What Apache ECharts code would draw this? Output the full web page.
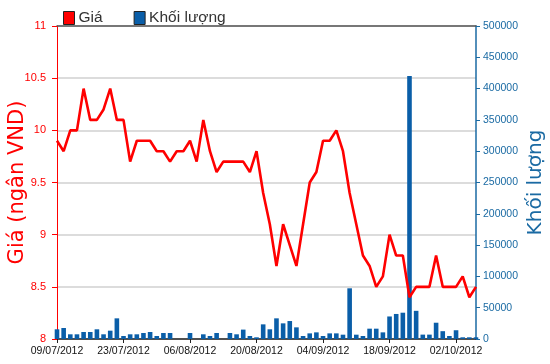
<!DOCTYPE html>
<html>
<head>
<meta charset="utf-8">
<script src="https://cdn.jsdelivr.net/npm/echarts@6/dist/echarts.min.js"></script>
<style>
html,body{margin:0;padding:0;background:#fff;}
#c{width:550px;height:364px;}
</style>
</head>
<body>
<div id="c"></div>
<script>
var dates = [
 '09/07/2012','10/07/2012','11/07/2012','12/07/2012','13/07/2012','16/07/2012','17/07/2012','18/07/2012','19/07/2012','20/07/2012',
 '23/07/2012','24/07/2012','25/07/2012','26/07/2012','27/07/2012','30/07/2012','31/07/2012','01/08/2012','02/08/2012','03/08/2012',
 '06/08/2012','07/08/2012','08/08/2012','09/08/2012','10/08/2012','13/08/2012','14/08/2012','15/08/2012','16/08/2012','17/08/2012',
 '20/08/2012','21/08/2012','22/08/2012','23/08/2012','24/08/2012','27/08/2012','28/08/2012','29/08/2012','30/08/2012','31/08/2012',
 '04/09/2012','05/09/2012','06/09/2012','07/09/2012','10/09/2012','11/09/2012','12/09/2012','13/09/2012','14/09/2012','17/09/2012',
 '18/09/2012','19/09/2012','20/09/2012','21/09/2012','24/09/2012','25/09/2012','26/09/2012','27/09/2012','28/09/2012','01/10/2012',
 '02/10/2012','03/10/2012','04/10/2012','05/10/2012'
];
var price = [
 9.9,9.8,10.0,10.0,10.4,10.1,10.1,10.2,10.4,10.1,
 10.1,9.7,9.9,9.9,9.9,9.8,9.8,9.7,9.8,9.8,
 9.9,9.7,10.1,9.8,9.6,9.7,9.7,9.7,9.7,9.6,
 9.8,9.4,9.1,8.7,9.1,8.9,8.7,9.1,9.5,9.6,
 9.9,9.9,10.0,9.8,9.4,9.1,8.8,8.7,8.5,8.6,
 9.0,8.8,8.8,8.4,8.5,8.5,8.5,8.8,8.5,8.5,
 8.5,8.6,8.4,8.5
];
var volume = [
 15500,17600,7500,7500,11200,11200,15500,7500,13300,33000,
 4800,7500,7500,9600,11200,4800,9600,9600,0,0,
 9600,0,7500,4800,9600,0,9600,7500,15000,4800,
 2700,23400,15500,33000,25000,28700,18600,4800,9000,10600,
 4800,9000,9000,6900,81000,6900,4800,16500,16500,10600,
 36000,40000,42000,420000,45000,7000,7000,26000,12500,4800,
 14000,2700,2700,2700
];
var priceName = 'Giá';
var volName = 'Khối lượng';
var leftTitle = 'Giá (ngân VND)';
var rightTitle = 'Khối lượng';

var chart = echarts.init(document.getElementById('c'));
var font = 'Liberation Sans, Arial, sans-serif';
var wide = 'DejaVu Sans, Verdana, sans-serif';
chart.setOption({
  animation: false,
  textStyle: {fontFamily: font},
  legend: {
    left: 58, top: 5,
    itemWidth: 11, itemHeight: 13, itemGap: 31,
    icon: 'rect',
    textStyle: {fontSize: 15.5, color: '#333', fontFamily: font, padding: [0,0,0,-1]},
    data: [
      {name: priceName, itemStyle: {color: '#ff0000', borderColor: '#222', borderWidth: 1}},
      {name: volName, itemStyle: {color: '#0a5ea8', borderColor: '#222', borderWidth: 1}}
    ]
  },
  grid: {left: 57, right: 74, top: 26, bottom: 25, containLabel: false, outerBoundsMode: 'none'},
  xAxis: [{
    type: 'category', data: dates, boundaryGap: false,
    axisLine: {lineStyle: {color: '#222', width: 1.5}},
    axisTick: {interval: 9, length: 4, lineStyle: {color: '#222'}},
    axisLabel: {interval: 9, fontSize: 10.5, color: '#111', margin: 7, fontFamily: font}
  }, {
    type: 'category', data: dates, position: 'top', boundaryGap: false,
    axisLine: {lineStyle: {color: '#555', width: 1.5}},
    axisTick: {show: false}, axisLabel: {show: false}
  }],
  yAxis: [{
    type: 'value', min: 8, max: 11, interval: 0.5, position: 'left',
    name: leftTitle, nameLocation: 'middle', nameRotate: 90, nameGap: 29, nameMoveOverlap: false,
    nameTextStyle: {color: '#ff0000', fontSize: 21, fontFamily: wide},
    axisLine: {show: true, lineStyle: {color: '#ff0000', width: 1}},
    axisTick: {show: true, length: 5, lineStyle: {color: '#ff0000'}},
    axisLabel: {color: '#ff0000', fontSize: 11, margin: 11, fontFamily: font},
    splitLine: {show: true, lineStyle: {color: '#d0d0d0', width: 1.5}}
  }, {
    type: 'value', min: 0, max: 500000, interval: 50000, position: 'right',
    name: rightTitle, nameLocation: 'middle', nameRotate: 90, nameGap: 50, nameMoveOverlap: false,
    nameTextStyle: {color: '#1a6aa3', fontSize: 20, fontFamily: wide},
    axisLine: {show: true, lineStyle: {color: '#1a6aa3', width: 1.5}},
    axisTick: {show: true, length: 4, lineStyle: {color: '#1a6aa3'}},
    axisLabel: {color: '#1a6aa3', fontSize: 10.5, margin: 7, fontFamily: font,
      formatter: function (v) { return String(v); }},
    splitLine: {show: false}
  }],
  series: [{
    name: volName, type: 'bar', yAxisIndex: 1, data: volume,
    barWidth: 4.6, itemStyle: {color: '#0a5ea8'}, z: 1
  }, {
    name: priceName, type: 'line', yAxisIndex: 0, data: price,
    symbol: 'none', lineStyle: {color: '#ff0000', width: 2.6}, itemStyle: {color: '#ff0000'}, z: 3
  }]
});
</script>
</body>
</html>
